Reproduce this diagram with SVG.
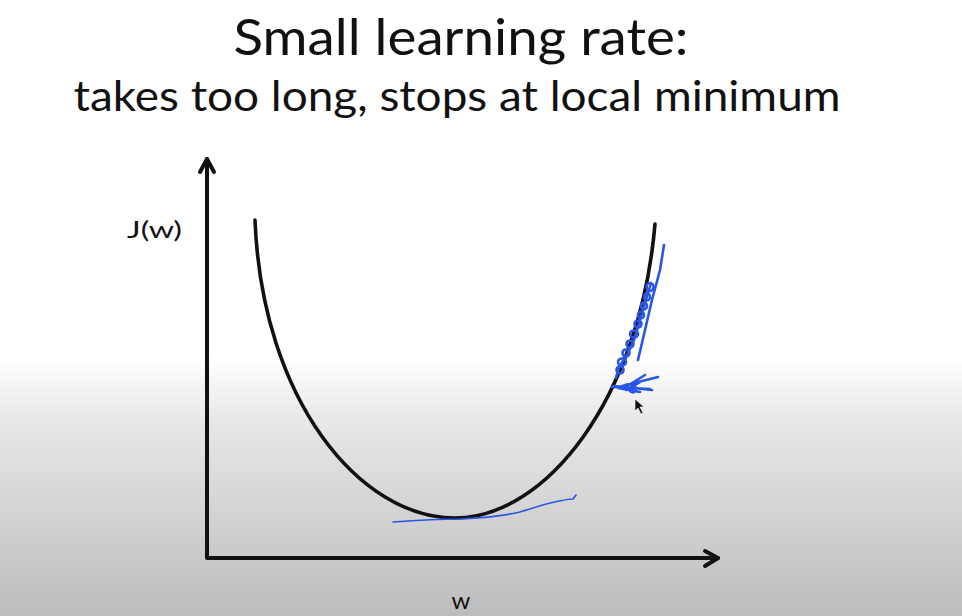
<svg xmlns="http://www.w3.org/2000/svg" width="962" height="616" viewBox="0 0 962 616">
<defs>
<linearGradient id="bg" x1="0" y1="0" x2="0" y2="616" gradientUnits="userSpaceOnUse">
<stop offset="0" stop-color="#ffffff"/>
<stop offset="0.58" stop-color="#ffffff"/>
<stop offset="0.68" stop-color="#e8e8e8"/>
<stop offset="1" stop-color="#bcbcbc"/>
</linearGradient>
<style>
.ax{fill:none;stroke:#111;stroke-width:4;stroke-linecap:round;stroke-linejoin:round}
.cv{fill:none;stroke:#111;stroke-width:3.6;stroke-linecap:round}
.ink{fill:none;stroke:#2a56e6;stroke-width:1.7;stroke-linecap:round;stroke-linejoin:round}
.inkb{fill:none;stroke:#2a56e6;stroke-width:2.6;stroke-linecap:round;stroke-linejoin:round}
.t{font-family:Lato,"Open Sans","Liberation Sans",sans-serif;fill:#111}
</style>
</defs>
<rect width="962" height="616" fill="url(#bg)"/>
<g id="title">
<text class="t" x="461" y="55" font-size="51" text-anchor="middle" textLength="455" lengthAdjust="spacingAndGlyphs">Small learning rate:</text>
<text class="t" x="457" y="111" font-size="43" text-anchor="middle" textLength="767" lengthAdjust="spacingAndGlyphs">takes too long, stops at local minimum</text>
</g>
<g id="axes">
<path class="ax" d="M207,159 L207,558 L718,558"/>
<path class="ax" d="M200,172 L207,159 L214,172"/>
<path class="ax" d="M705,551 L718,558 L705,566"/>
<text class="t" x="127" y="238" font-size="24" textLength="55" lengthAdjust="spacingAndGlyphs" fill="#2a2a2a">J(w)</text>
<text class="t" x="461" y="609" font-size="24" text-anchor="middle" fill="#2a2a2a">w</text>
</g>
<g id="curve">
<path class="cv" d="M255,220 C262,400 360,518 455,518 C545,518 640,400 655,224"/>
</g>
<g id="scribbles">
<path class="ink" d="M393,522 C420,520 440,519 460,519 C480,518 500,517 520,512 C540,506 555,500 573,499 L576,495"/>
<path class="inkb" d="M664,245 L660,270 L652,300 L645,330 L638,360"/>
<path class="inkb" d="M651,283 L646,300 L640,320 L634,340 L627,355 L619,367 L616,378"/>
<g class="inkb">
<ellipse cx="650" cy="287" rx="3.5" ry="4"/>
<ellipse cx="647" cy="297" rx="3" ry="3.5"/>
<ellipse cx="644" cy="306" rx="3" ry="3.5"/>
<ellipse cx="641" cy="315" rx="3" ry="3.5"/>
<ellipse cx="638" cy="324" rx="3.5" ry="3.5"/>
<ellipse cx="634" cy="334" rx="4" ry="3.5"/>
<ellipse cx="630" cy="344" rx="3.5" ry="3.5"/>
<ellipse cx="626" cy="353" rx="3.5" ry="3.5"/>
<ellipse cx="622" cy="362" rx="4" ry="3.5"/>
<ellipse cx="620" cy="370" rx="3.5" ry="3.5"/>
</g>
<path class="inkb" d="M612,387 L650,389 M614,386 L652,390 M618,388 L640,392 M622,386 L658,377 M624,388 L645,375 M626,390 L640,382"/>
<path class="ink" d="M626,384 C628,392 634,396 636,390 C637,385 632,383 630,388"/>
</g>
<g id="cursor">
<path d="M635,399 L635,411 L638,408 L641,414 L643,413 L640,407 L644,407 Z" fill="#111" stroke="#fff" stroke-width="0.6"/>
</g>
</svg>
